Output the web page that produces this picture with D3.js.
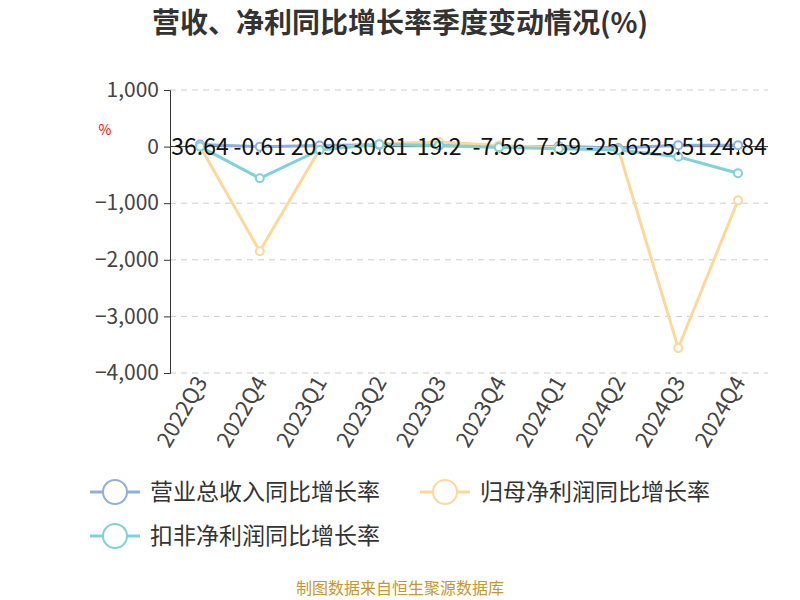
<!DOCTYPE html><html><head><meta charset="utf-8"><script src="https://cdn.jsdelivr.net/npm/d3@7"></script>
<style>body{margin:0;background:#fff}text{font-family:"Noto Sans CJK SC","Noto Sans",sans-serif}</style></head><body><svg width="800" height="600"></svg><script>
const categories=["2022Q3","2022Q4","2023Q1","2023Q2","2023Q3","2023Q4","2024Q1","2024Q2","2024Q3","2024Q4"];
const revenue=[36.64,-0.61,20.96,30.81,19.2,-7.56,7.59,-25.65,25.51,24.84];
const netProfit=[5,-1850,-50,50,80,20,-20,-50,-3560,-950];
const deducted=[0,-560,-60,40,20,-10,-40,-60,-180,-470];
const yTicks=[1000,0,-1000,-2000,-3000,-4000];
const seriesNames=["营业总收入同比增长率","归母净利润同比增长率","扣非净利润同比增长率"];
const colors=["#8fb0dc","#fcd99a","#7fd2d8"];
const svg=d3.select("svg");
const x=d3.scalePoint().domain(categories).range([200,738]);
const y=d3.scaleLinear().domain([-4000,1000]).range([373,90]);
svg.append("text").attr("x",400).attr("y",33).attr("text-anchor","middle").attr("font-size",28).attr("font-weight","bold").attr("fill","#333").text("营收、净利同比增长率季度变动情况(%)");
svg.append("g").selectAll("line").data(yTicks.filter(d=>d!==0)).join("line").attr("x1",170).attr("x2",768).attr("y1",d=>y(d)).attr("y2",d=>y(d)).attr("stroke","#ccc").attr("stroke-dasharray","6,5");
const ya=svg.append("g").attr("transform","translate(170,0)").call(d3.axisLeft(y).tickValues(yTicks).tickFormat(d3.format(",")).tickSize(6));
ya.select(".domain").attr("stroke","#333");ya.selectAll("line").attr("stroke","#333");
ya.selectAll("text").attr("font-size",21).attr("fill","#444").attr("dx",-2);
svg.append("text").attr("x",105).attr("y",135).attr("fill","red").attr("font-size",14).attr("text-anchor","middle").text("%");
const xa=svg.append("g").attr("transform",`translate(0,${y(0)})`).call(d3.axisBottom(x).tickSize(6).tickFormat(""));
xa.select(".domain").attr("d","M170,0H768").attr("stroke","#333");xa.selectAll("line").attr("stroke","#333");
svg.append("g").selectAll("text").data(categories).join("text").attr("transform",d=>`translate(${x(d)+8},382) rotate(-60)`).attr("text-anchor","end").attr("font-size",22).attr("fill","#444").text(d=>d);
const line=d3.line().x((d,i)=>x(categories[i])).y(d=>y(d));
[revenue,netProfit,deducted].forEach((s,k)=>{
 svg.append("path").attr("d",line(s)).attr("fill","none").attr("stroke",colors[k]).attr("stroke-width",3);
 svg.append("g").selectAll("circle").data(s).join("circle").attr("cx",(d,i)=>x(categories[i])).attr("cy",d=>y(d)).attr("r",4).attr("fill","#fff").attr("stroke",colors[k]).attr("stroke-width",2);
});
svg.append("g").selectAll("text").data(revenue).join("text").attr("x",(d,i)=>x(categories[i])).attr("y",y(0)+8).attr("text-anchor","middle").attr("font-size",23).attr("fill","#111").text(d=>d);
const leg=[[90,492],[420,492],[90,536]];
seriesNames.forEach((n,k)=>{const g=svg.append("g").attr("transform",`translate(${leg[k][0]},${leg[k][1]})`);
 g.append("line").attr("x1",0).attr("x2",50).attr("stroke",colors[k]).attr("stroke-width",3);
 g.append("circle").attr("cx",25).attr("r",12).attr("fill","#fff").attr("stroke",colors[k]).attr("stroke-width",2);
 g.append("text").attr("x",60).attr("y",8).attr("font-size",23).attr("fill","#333").text(n);});
svg.append("text").attr("x",400).attr("y",594).attr("text-anchor","middle").attr("font-size",16).attr("fill","#c8962d").text("制图数据来自恒生聚源数据库");
</script></body></html>
